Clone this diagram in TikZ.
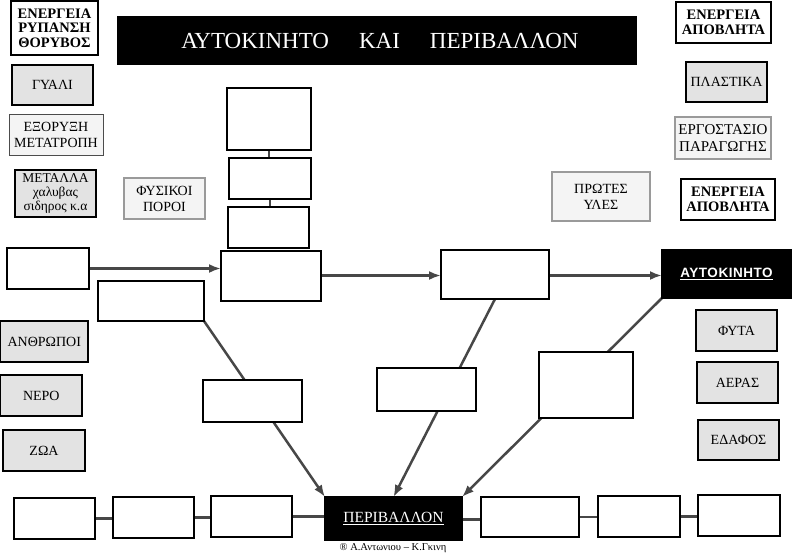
\documentclass[tikz,border=0pt]{standalone}
\usepackage{fontspec}
\setmainfont{Liberation Serif}
\newfontfamily\sansbold{Liberation Sans}
\usetikzlibrary{arrows.meta,backgrounds}
\definecolor{boxgray}{HTML}{E3E3E3}
\definecolor{boxlight}{HTML}{F4F4F4}
\definecolor{edgegray}{HTML}{9A9A9A}
\definecolor{linkgray}{HTML}{474747}
\newcommand\placebox[7]{\node[#1,minimum width={#5-#3},minimum height={#6-#4}] (#2) at ({(#3+#5)/2},{(#4+#6)/2}) {#7};}
\begin{document}
\begin{tikzpicture}[x=1pt,y=-1pt,
  boxbase/.style={draw=black,line width=1.1pt,inner sep=0pt,outer sep=0pt,align=center,font=\fontsize{14}{16}\selectfont},
  emptybox/.style={boxbase,fill=white},
  boldbox/.style={boxbase,fill=white,font=\fontsize{14.5}{14.5}\selectfont\bfseries},
  graybox/.style={boxbase,fill=boxgray},
  lightbox/.style={boxbase,fill=boxlight,draw=edgegray,line width=2pt},
  minebox/.style={boxbase,fill=boxlight,draw=black!70,line width=1pt},
  darkbox/.style={boxbase,fill=black,text=white},
  link/.style={draw=linkgray,line width=2.5pt},
  arrowlink/.style={link,-{Latex[length=12pt,width=9pt]}},
]
\useasboundingbox (0,0) rectangle (792,555);
% left column
\placebox{boldbox}{e1}{11}{1}{98}{55}{ΕΝΕΡΓΕΙΑ\\ΡΥΠΑΝΣΗ\\ΘΟΡΥΒΟΣ}
\placebox{graybox}{glass}{12}{65}{93}{105}{ΓΥΑΛΙ}
\placebox{minebox}{mining}{9}{114}{103}{155}{ΕΞΟΡΥΞΗ\\ΜΕΤΑΤΡΟΠΗ}
\placebox{graybox,font=\fontsize{13.5}{14}\selectfont}{metals}{15}{170}{96}{217}{ΜΕΤΑΛΛΑ\\χαλυβας\\σιδηρος κ.α}
\placebox{lightbox}{natres}{124}{178}{205}{219}{ΦΥΣΙΚΟΙ\\ΠΟΡΟΙ}
% title
\placebox{darkbox}{title}{118}{17}{636}{64}{\fontsize{23}{25}\selectfont\hspace{6pt}ΑΥΤΟΚΙΝΗΤΟ\hspace{30pt}ΚΑΙ\hspace{30pt}ΠΕΡΙΒΑΛΛΟΝ}
% right column
\placebox{boldbox}{e2}{676}{2}{771}{43}{ΕΝΕΡΓΕΙΑ\\ΑΠΟΒΛΗΤΑ}
\placebox{graybox}{plastic}{686}{62}{767}{102}{ΠΛΑΣΤΙΚΑ}
\placebox{lightbox,font=\fontsize{15}{16.5}\selectfont}{factory}{675}{117}{771}{159}{ΕΡΓΟΣΤΑΣΙΟ\\ΠΑΡΑΓΩΓΗΣ}
\placebox{boldbox}{e3}{681}{179}{775}{220}{ΕΝΕΡΓΕΙΑ\\ΑΠΟΒΛΗΤΑ}
\placebox{lightbox}{raw}{552}{172}{650}{221}{ΠΡΩΤΕΣ\\ΥΛΕΣ}
% middle column of empty boxes
\placebox{emptybox}{a1}{227}{88}{311}{150}{}
\placebox{emptybox}{a2}{229}{158}{311}{199}{}
\placebox{emptybox}{a3}{228}{207}{309}{248}{}
\placebox{emptybox}{a4}{221}{251}{321}{301}{}
\placebox{emptybox}{l1}{7}{248}{89}{289}{}
\placebox{emptybox}{l2}{98}{281}{204}{321}{}
\placebox{emptybox}{l3}{203}{380}{302}{422}{}
\placebox{graybox}{people}{0.6}{321}{88}{362}{ΑΝΘΡΩΠΟΙ}
\placebox{graybox}{water}{0.6}{375}{82}{416}{ΝΕΡΟ}
\placebox{graybox}{animals}{3}{430}{85}{471}{ΖΩΑ}
\placebox{emptybox}{m1}{441}{250}{549}{299}{}
\placebox{darkbox}{car}{662}{250}{791}{298}{\sansbold\fontsize{13.5}{15}\selectfont\bfseries\addfontfeature{LetterSpace=4}\underline{ΑΥΤΟΚΙΝΗΤΟ}}
\placebox{graybox}{plants}{696}{310}{777}{351}{ΦΥΤΑ}
\placebox{graybox}{air}{697}{362}{778}{403}{ΑΕΡΑΣ}
\placebox{graybox}{soil}{698}{420}{779}{460}{ΕΔΑΦΟΣ}
\placebox{emptybox}{m2}{377}{368}{476}{411}{}
\placebox{emptybox}{m3}{539}{352}{633}{418}{}
% bottom row
\placebox{emptybox}{b1}{14}{498}{95}{539}{}
\placebox{emptybox}{b2}{113}{497}{194}{538}{}
\placebox{emptybox}{b3}{211}{496}{292}{537}{}
\placebox{darkbox}{env}{325}{497}{462}{540}{\fontsize{15.5}{17}\selectfont\underline{ΠΕΡΙΒΑΛΛΟΝ}}
\placebox{emptybox}{b4}{481}{497}{579}{537}{}
\placebox{emptybox}{b5}{598}{496}{680}{537}{}
\placebox{emptybox}{b6}{698}{495}{780}{536}{}
\node[font=\fontsize{10.5}{11}\selectfont,inner sep=0pt] (copyright) at (393,548) {® Α.Αντωνιου – Κ.Γκινη};
\begin{pgfonlayer}{background}
\fill[white] (0,0) rectangle (792,555);
\draw[arrowlink] (l1.east) -- (l1.east -| a4.west);
\draw[arrowlink] ([yshift=0.5pt]a4.east) -- ([yshift=0.5pt]a4.east -| m1.west);
\draw[arrowlink] ([yshift=-1pt]m1.east) -- ([yshift=-1pt]m1.east -| car.west);
\draw[link,line width=2pt] (a1.south) -- (a1.south |- a2.north);
\draw[link,line width=2pt] (a2.south) -- (a2.south |- a3.north);
\draw[arrowlink] (l2.south east) -- (env.north west);
\draw[arrowlink] (m1.south) -- (env.north);
\draw[arrowlink] (car.south west) -- (env.north east);
\draw[link] (b1.east) -- (b1.east -| b2.west);
\draw[link] (b2.east) -- (b2.east -| b3.west);
\draw[link,line width=3.5pt] (b3.east) -- (b3.east -| env.west);
\draw[link,line width=3pt] ([yshift=-1pt]env.east) -- ([yshift=-1pt]env.east -| b4.west);
\draw[link] (b4.east) -- (b4.east -| b5.west);
\draw[link] (b5.east) -- (b5.east -| b6.west);
\end{pgfonlayer}
\end{tikzpicture}
\end{document}
